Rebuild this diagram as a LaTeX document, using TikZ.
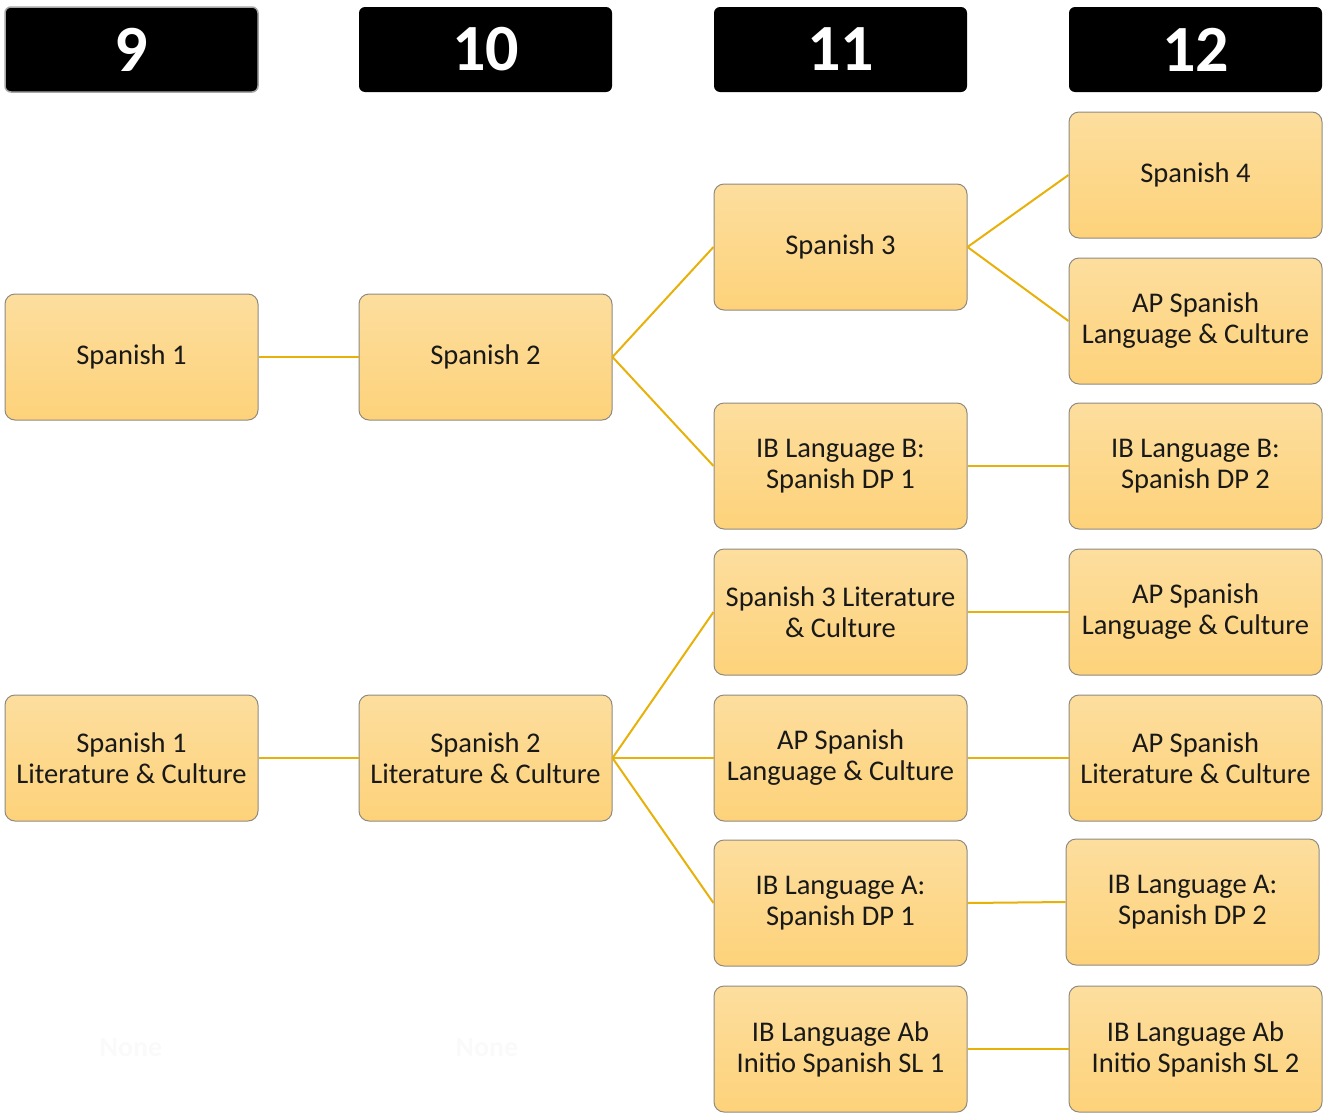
\documentclass[tikz,border=0pt]{standalone}
\usepackage{fontspec}
\setmainfont{Carlito}
\definecolor{boxtop}{HTML}{FDDE9E}
\definecolor{boxbot}{HTML}{FDD27A}
\definecolor{boxedge}{HTML}{8F8A80}
\definecolor{linkc}{HTML}{E8B10A}
\definecolor{ghost}{HTML}{FAFAFA}
\begin{document}
\begin{tikzpicture}[x=1pt,y=-1pt,
  course/.style={draw=boxedge, line width=1pt, rounded corners=10pt,
    top color=boxtop, bottom color=boxbot,
    minimum width=253pt, minimum height=126pt, inner sep=2pt,
    align=center, text=black!90, font=\fontsize{28.5}{31}\selectfont},
  grade/.style={fill=black, rounded corners=6pt,
    minimum width=253pt, minimum height=85pt, inner sep=0pt,
    text=white, font=\fontsize{66}{70}\selectfont\bfseries},
  link/.style={draw=linkc, line width=2pt},
  ghosttext/.style={text=ghost, font=\fontsize{28}{31}\selectfont\bfseries}]
\useasboundingbox (0,0) rectangle (1328,1114);
% headers
\node[grade, draw=black!35, line width=1.5pt] (g9) at (131.5,49.5) {9};
\node[grade] (g10) at (485.5,49.5) {10};
\node[grade] (g11) at (840.5,49.5) {11};
\node[grade] (g12) at (1195.5,49.5) {12};
% column 9
\node[course] (s1) at (131.5,357) {Spanish 1};
\node[course] (s1l) at (131.5,758) {Spanish 1\\Literature \& Culture};
% column 10
\node[course] (s2) at (485.5,357) {Spanish 2};
\node[course] (s2l) at (485.5,758) {Spanish 2\\Literature \& Culture};
% column 11
\node[course] (s3) at (840.5,247) {Spanish 3};
\node[course] (ibb1) at (840.5,466) {IB Language B:\\Spanish DP 1};
\node[course] (s3l) at (840.5,612) {Spanish 3 Literature\\\& Culture};
\node[course] (apl11) at (840.5,758) {AP Spanish\\Language \& Culture};
\node[course] (iba1) at (840.5,903) {IB Language A:\\Spanish DP 1};
\node[course] (ab1) at (840.5,1049) {IB Language Ab\\Initio Spanish SL 1};
% column 12
\node[course] (s4) at (1195.5,175) {Spanish 4};
\node[course] (apl12a) at (1195.5,321) {AP Spanish\\Language \& Culture};
\node[course] (ibb2) at (1195.5,466) {IB Language B:\\Spanish DP 2};
\node[course] (apl12b) at (1195.5,612) {AP Spanish\\Language \& Culture};
\node[course] (aplit) at (1195.5,758) {AP Spanish\\Literature \& Culture};
\node[course] (iba2) at (1192.5,902) {IB Language A:\\Spanish DP 2};
\node[course] (ab2) at (1195.5,1049) {IB Language Ab\\Initio Spanish SL 2};
% faint labels
\node[ghosttext] (n9) at (131,1048) {None};
\node[ghosttext] (n10) at (487,1048) {None};
% connectors
\draw[link] (s1.east) -- (s2.west);
\draw[link] (s2.east) -- (s3.west);
\draw[link] (s2.east) -- (ibb1.west);
\draw[link] (s3.east) -- (s4.west);
\draw[link] (s3.east) -- (apl12a.west);
\draw[link] (ibb1.east) -- (ibb2.west);
\draw[link] (s1l.east) -- (s2l.west);
\draw[link] (s2l.east) -- (s3l.west);
\draw[link] (s2l.east) -- (apl11.west);
\draw[link] (s2l.east) -- (iba1.west);
\draw[link] (s3l.east) -- (apl12b.west);
\draw[link] (apl11.east) -- (aplit.west);
\draw[link] (iba1.east) -- (iba2.west);
\draw[link] (ab1.east) -- (ab2.west);
\end{tikzpicture}
\end{document}
